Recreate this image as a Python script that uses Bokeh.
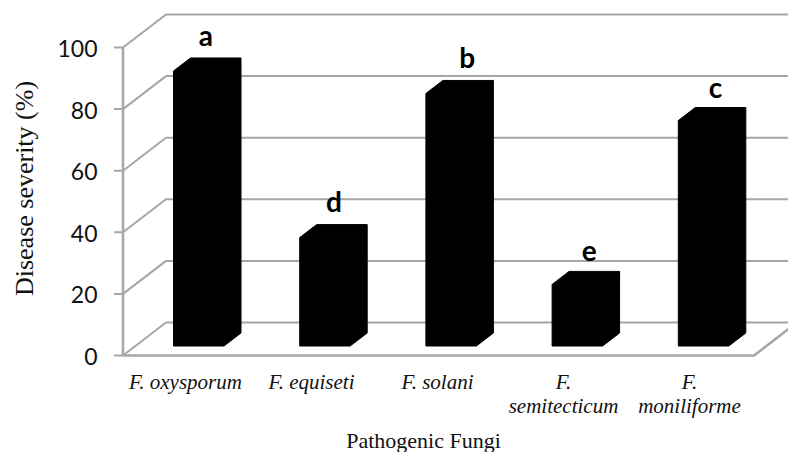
from bokeh.plotting import figure
from bokeh.embed import file_html
from bokeh.resources import INLINE
from bokeh.models import Range1d
from bokeh.core.properties import value

categories = [["F. oxysporum"], ["F. equiseti"], ["F. solani"], ["F.", "semitecticum"], ["F.", "moniliforme"]]
severity = [89.3, 35.2, 82.0, 20.0, 73.2]
letters = ["a", "d", "b", "e", "c"]
y_ticks = [0, 20, 40, 60, 80, 100]
x_title = "Pathogenic Fungi"
y_title = "Disease severity (%)"

W, H = 788, 452
PX = 3.08            # pixels per severity unit
Y0 = 355             # pixel row of value 0, front plane
X_LEFT = 122.5
X_RIGHT = 753.5
DX, DY = 43.0, 33.0 / PX
BAR_X = [173 + 126.2 * i for i in range(5)]
BAR_W, BAR_DX, BAR_DY = 50.5, 17.0, 13.0 / PX
BASE = 9.5 / PX      # bar front bottom above value 0
GRID = "#a6a6a6"
LABEL_SHIFT_X = [-1, 1, 8, 4, 4]
LABEL_SHIFT_Y = [0, 0, 0, -4, 3]

ymin = -(H - Y0) / PX
ymax = Y0 / PX
p = figure(width=W, height=H, output_backend="svg", toolbar_location=None,
           x_range=Range1d(0, W), y_range=Range1d(ymin, ymax),
           min_border=0, outline_line_color=None, background_fill_color="white")
p.axis.visible = False
p.grid.visible = False

# back wall and side wall gridlines, floor
for t in y_ticks:
    p.line([X_LEFT, X_LEFT + DX, W + 20], [t, t + DY, t + DY], line_color=GRID, line_width=2)
    p.line([X_LEFT - 9, X_LEFT], [t, t], line_color=GRID, line_width=2)
    p.text([X_LEFT - 25.5], [t - 0.3], text=[str(t)], text_align="right", text_baseline="middle",
           text_font=value("Lato"), text_font_size="23px", text_color="#111111")
p.line([X_LEFT, X_LEFT], [0, 100], line_color=GRID, line_width=2.5)
p.line([X_LEFT, X_RIGHT, X_RIGHT + DX], [0, 0, DY], line_color=GRID, line_width=2.5)

# 3D bars
xs, ys = [], []
for x, v in zip(BAR_X, severity):
    b = BASE
    t = BASE + v
    xs.append([x, x + BAR_W, x + BAR_W + BAR_DX, x + BAR_W + BAR_DX, x + BAR_DX, x])
    ys.append([b, b, b + BAR_DY, t + BAR_DY, t + BAR_DY, t])
p.patches(xs, ys, fill_color="black", line_color="black", line_width=1)

# significance letters
for x, v, s, sx, sy in zip(BAR_X, severity, letters, LABEL_SHIFT_X, LABEL_SHIFT_Y):
    p.text([x + BAR_W / 2 + 8 + sx], [BASE + v + BAR_DY + 2.0 - sy / PX], text=[s], text_align="center",
           text_baseline="bottom", text_font=value("Lato"), text_font_style="bold",
           text_font_size="28px", text_color="black")

# category labels
CX = [185, 311, 437, 563, 689]
for x, lines in zip(CX, categories):
    for i, s in enumerate(lines):
        p.text([x], [ymax - (381 + i * 24) / PX], text=[s], text_align="center",
               text_baseline="middle", text_font=value("Liberation Serif"),
               text_font_style="italic", text_font_size="21px", text_color="#111111")

p.text([423], [ymax - (440) / PX], text=[x_title], text_align="center",
       text_baseline="middle", text_font=value("Liberation Serif"),
       text_font_size="22px", text_color="#111111")
p.text([24], [ymax - (188) / PX], text=[y_title], text_align="center",
       text_baseline="middle", angle=1.5708, text_font=value("Liberation Serif"),
       text_font_size="26px", text_color="#111111")

open("out.html", "w").write(file_html(p, INLINE))
